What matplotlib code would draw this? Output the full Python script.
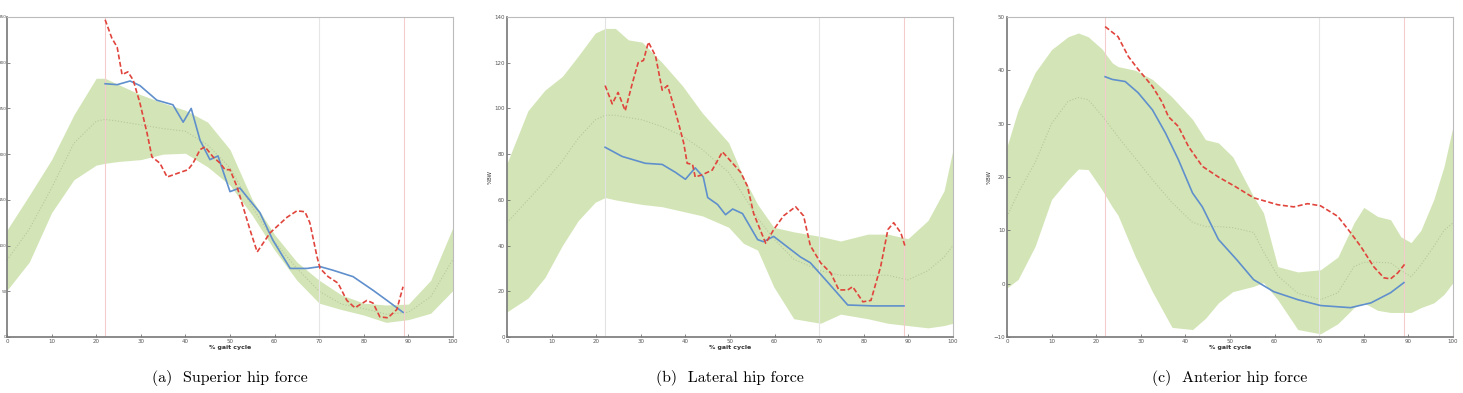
import matplotlib
matplotlib.use("Agg")
import matplotlib.pyplot as plt

# ---- (a) superior hip force ----
a_band_x = [0, 5, 10, 15, 20, 22, 25, 30, 35, 40, 45, 50, 55, 60, 65, 70, 75, 80, 85, 90, 95, 100]
a_upper = [117, 155, 194, 243, 283, 283, 276, 265, 256, 248, 235, 205, 150, 112, 82, 62, 46, 37, 35, 36, 62, 120]
a_lower = [51, 82, 136, 172, 188, 190, 192, 194, 200, 201, 186, 166, 133, 95, 62, 37, 30, 24, 16, 19, 26, 51]
a_mean = [84, 118, 163, 212, 236, 238, 236, 232, 228, 225, 210, 185, 142, 104, 75, 50, 36, 31, 25, 27, 44, 85]
a_blue_x = [22.0, 24.7, 27.6, 29.8, 33.6, 37.2, 39.5, 41.3, 43.3, 45.5, 47.3, 50.0, 52.2, 56.7, 59.6, 63.5, 67.3, 70.2, 73.1, 77.6, 82.1, 85.2, 88.8]
a_blue = [277, 276, 280, 275, 259, 254, 235, 250, 215, 194, 198, 159, 163, 136, 106, 75, 75, 77, 73, 66, 51, 40, 27]
a_red_x = [22.0, 23.5, 24.7, 25.8, 27.1, 28.3, 29.8, 31.4, 32.5, 34.3, 35.9, 38.8, 40.6, 41.7, 43.3, 44.4, 46.2, 47.8, 48.9, 50.0,
           51.6, 54.5, 56.1, 59.0, 62.8, 65.0, 66.8, 67.9, 69.5, 70.2, 72.0, 74.2, 76.2, 78.0, 80.7, 82.1, 83.6, 85.4, 87.4, 88.8]
a_red = [347, 327, 317, 287, 290, 281, 256, 223, 197, 190, 175, 180, 183, 190, 205, 208, 197, 190, 183, 183,
         164, 117, 93, 114, 131, 138, 137, 125, 88, 75, 66, 59, 40, 32, 40, 37, 22, 21, 30, 55]

# ---- (b) lateral hip force ----
b_band_x = [0, 4.7, 8.5, 12.4, 16, 19.8, 22, 24.3, 27.2, 30.3, 34.8, 39.3, 43.8, 49.7, 53, 56.2, 59.8, 64.3, 70.3, 74.8, 80.9, 85.4, 89.9, 94.4, 98, 100]
b_upper = [76, 99, 108, 114, 123, 133, 135, 135, 130, 129, 120, 110, 98, 85, 70, 58, 48, 46, 44, 42, 45, 45, 43, 51, 64, 82]
b_lower = [11, 17, 26, 40, 51, 59, 61, 60, 59, 58, 57, 55, 53, 48, 41, 38, 22, 8, 6, 10, 8, 6, 5, 4, 5, 6]
b_mean = [50, 60, 68, 77, 87, 95, 97, 97, 96, 95, 92, 88, 82, 72, 62, 52, 43, 34, 29, 27, 27, 27, 25, 29, 35, 40]
b_blue_x = [22, 25.8, 31, 34.8, 37.8, 40, 42.2, 44, 45, 47.2, 49, 50.6, 52.8, 56.2, 57.5, 59.8, 65.8, 68, 71.9, 76.4, 82.2, 89]
b_blue = [83, 79, 76, 75.5, 72, 69, 74, 70, 61, 58, 53.5, 56, 54, 42.6, 41.7, 44, 35, 32.5, 24, 14, 13.6, 13.6]
b_red_x = [22, 23.6, 24.9, 26.5, 28.1, 29.4, 30.6, 31.7, 33.3, 34.8, 36, 37.1, 38.4, 39.6, 40.4, 41.6, 42.2, 43.8, 46, 48.3, 50.6, 52.4,
           53.9, 55.3, 58, 59.8, 62, 64.7, 66.5, 68, 70.3, 72.6, 74.4, 76.4, 77.5, 79.8, 81.6, 83.8, 85.4, 86.7, 88.3, 89.2]
b_red = [110, 102, 107, 99, 111, 120, 121, 129, 123, 108, 110, 103, 94, 85, 76, 75.5, 70, 71, 73, 81, 76, 72,
         66, 54, 41, 47, 53, 57, 53, 40, 32.5, 28, 20.6, 20.6, 22, 15.4, 16, 31, 47, 50, 45.6, 40]

# ---- (c) anterior hip force ----
c_band_x = [0, 2.5, 6.3, 10, 13.7, 16, 18.2, 21.3, 23.6, 24.9, 28.8, 32.6, 37, 41.6, 44.5, 47.4, 50.6, 55.3, 57.5, 60.7, 65.2,
            70.3, 74.2, 77.8, 80, 83.1, 86, 88.3, 90.6, 92.8, 95.7, 98, 100]
c_upper = [25.7, 32.6, 39.6, 43.9, 46.3, 47, 46.3, 44, 41.4, 40.7, 40, 38.3, 35, 30.8, 27, 26.4, 23.8, 16.3, 13.3, 3.2, 2.2,
           2.6, 5, 11.4, 14.3, 12.6, 12, 8.8, 7.7, 10, 15.8, 22, 29.5]
c_lower = [-0.8, 0.8, 7, 15.8, 19.5, 21.5, 21.4, 17.6, 14.4, 12.8, 5, -1.5, -8.2, -8.6, -6.5, -3.6, -1.5, -0.5, 0.2, -3, -8.6,
           -9.4, -7.5, -4.5, -3.6, -5, -5.4, -5.4, -5.4, -4.5, -3.6, -2, 0.2]
c_mean = [12.6, 17, 22.7, 30, 34.2, 34.9, 34.5, 31.5, 29, 27.5, 23.5, 19.5, 15.2, 11.5, 10.7, 10.7, 10.5, 9.6, 6, 1.5, -1.8,
          -3, -1.7, 3.2, 4, 4, 3.9, 2.5, 1.3, 3.5, 7, 10, 11.4]
c_blue_x = [22, 23.6, 26.5, 29.4, 32.6, 35.5, 38.4, 41.6, 43.8, 47.4, 51.5, 55.3, 59.8, 65.2, 70.3, 77, 81.6, 86, 89]
c_blue = [38.8, 38.3, 37.9, 35.8, 32.6, 28.3, 23.3, 17, 14.4, 8.3, 4.5, 0.75, -1.5, -3, -4.1, -4.5, -3.6, -1.7, 0.2]
c_red_x = [22, 24.9, 27.2, 29.4, 32.6, 34.8, 36.2, 38.4, 40.7, 43.8, 47.4, 51.2, 55.3, 60.7, 64.3, 67.4, 70.3, 74.2, 77, 79.3,
           82.2, 84.5, 86, 87.6, 89.4]
c_red = [48.2, 46.3, 42.6, 40.2, 37, 34, 31.3, 29.5, 25.7, 22, 20, 18.2, 16.1, 14.8, 14.4, 15, 14.6, 12.6, 9.6, 7,
         3.2, 1.1, 0.9, 2, 3.9]

captions = ["(a)  Superior hip force", "(b)  Lateral hip force", "(c)  Anterior hip force"]
ylims = [(0, 350), (0, 140), (-10, 50)]
yticks = [range(0, 351, 50), range(0, 141, 20), range(-10, 51, 10)]
ylabels = ["", "%BW", "%BW"]
start_line = ["#f4cccc", "#e3e3e3", "#f4cccc"]

panels = [
    (a_band_x, a_upper, a_lower, a_mean, a_blue_x, a_blue, a_red_x, a_red),
    (b_band_x, b_upper, b_lower, b_mean, b_blue_x, b_blue, b_red_x, b_red),
    (c_band_x, c_upper, c_lower, c_mean, c_blue_x, c_blue, c_red_x, c_red),
]
lefts = [7, 507, 1007]

fig = plt.figure(figsize=(14.63, 3.93), dpi=100)
for i, (bx, up, lo, mn, blx, bl, rx, rd) in enumerate(panels):
    ax = fig.add_axes([lefts[i] / 1463, 1 - 337 / 393, 446 / 1463, 320 / 393])
    ax.fill_between(bx, lo, up, color="#d3e5b6", lw=0)
    ax.plot(bx, mn, ":", color="#b7c79e", lw=0.8)
    ax.axvline(22, color=start_line[i], lw=0.8)
    ax.axvline(70, color="#e6e6e6", lw=0.8)
    ax.axvline(89, color="#f4cccc", lw=0.8)
    ax.plot(blx, bl, color="#5f8fcc", lw=1.2)
    ax.plot(rx, rd, "--", color="#e0443c", lw=1.2, dashes=(3, 1.5))
    ax.set_xlim(0, 100)
    ax.set_ylim(*ylims[i])
    ax.set_xticks(range(0, 101, 10))
    ax.set_yticks(list(yticks[i]))
    ax.tick_params(direction="in", labelsize=4, length=2, width=0.5, colors="#555555", pad=1.5)
    if i == 0:
        # first panel sits on the figure edge: keep its y labels inside the image
        ax.tick_params(axis="y", labelsize=3, pad=0.3)
    for s in ["top", "right"]:
        ax.spines[s].set_color("#bbbbbb")
    for s in ["left", "bottom"]:
        ax.spines[s].set_color("#777777")
        ax.spines[s].set_linewidth(1.2)
    ax.set_xlabel("% gait cycle", fontsize=4.5, labelpad=1, fontweight="bold", color="#333333")
    if ylabels[i]:
        ax.set_ylabel(ylabels[i], fontsize=4, labelpad=1, color="#333333")
    fig.text((lefts[i] + 223) / 1463, 1 - 378 / 393, captions[i], ha="center", va="center",
             family="cmr10", fontsize=11.5)

fig.savefig("out.png", dpi=100)
